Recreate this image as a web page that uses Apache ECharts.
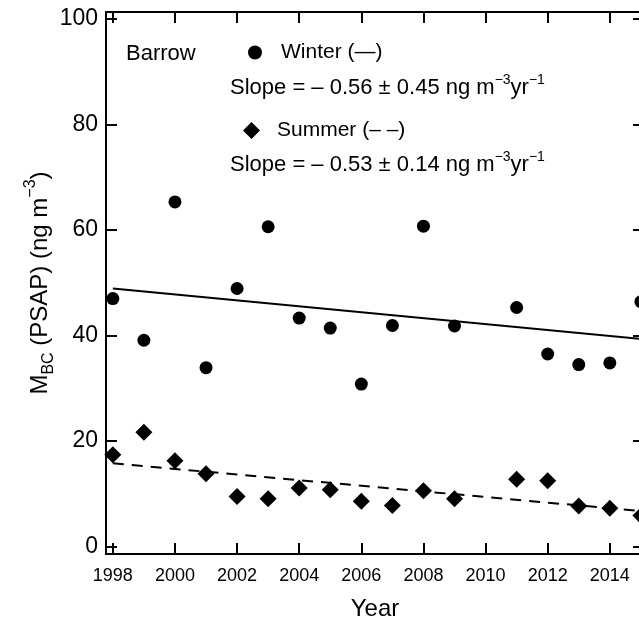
<!DOCTYPE html>
<html>
<head>
  <meta charset="utf-8">
  <title>Barrow BC</title>
  <script src="https://cdn.jsdelivr.net/npm/echarts@6.0.0/dist/echarts.min.js"></script>
  <style>
    html, body { margin: 0; padding: 0; background: #fff; }
    #chart { width: 639px; height: 619px; }
  </style>
</head>
<body>
  <div id="chart"></div>
  <script>
    // datos
    const years = [1998, 1999, 2000, 2001, 2002, 2003, 2004, 2005, 2006, 2007, 2008, 2009, 2010, 2011, 2012, 2013, 2014, 2015];
    const winter = [47.0, 39.1, 65.3, 33.9, 48.9, 60.6, 43.3, 41.4, 30.8, 41.9, 60.7, 41.8, null, 45.3, 36.5, 34.5, 34.8, 46.4];
    const summer = [17.4, 21.7, 16.3, 13.8, 9.5, 9.1, 11.1, 10.8, 8.6, 7.8, 10.6, 9.1, null, 12.8, 12.5, 7.7, 7.3, 5.9];
    // extremos de las rectas de tendencia
    const winterFit = [[1998, 48.9], [2015.1, 39.3]];
    const summerFit = [[1998, 15.8], [2015.1, 6.7]];
    const xTicks = [1998, 2000, 2002, 2004, 2006, 2008, 2010, 2012, 2014];
    const yTicks = [0, 20, 40, 60, 80, 100];

    const FONT = 'Liberation Sans, Arial, Helvetica, sans-serif';
    const myChart = echarts.init(document.getElementById('chart'), null, { renderer: 'canvas' });

    function pairs(vals) {
      const out = [];
      for (let i = 0; i < years.length; i++) {
        if (vals[i] != null) out.push([years[i], vals[i]]);
      }
      return out;
    }

    const lineStyleAxis = { color: '#000', width: 2 };

    function xAxisDef(pos, showLabel) {
      return {
        type: 'value',
        position: pos,
        min: 1997.78,
        max: 2015.1,
        splitLine: { show: false },
        axisLine: { show: true, onZero: false, lineStyle: lineStyleAxis },
        axisTick: { show: true, inside: true, length: 11, lineStyle: lineStyleAxis, customValues: xTicks },
        axisLabel: {
          show: showLabel, customValues: xTicks, margin: 13,
          color: '#000', fontFamily: FONT, fontSize: 18,
          formatter: function (v) { return String(v); }
        }
      };
    }

    function yAxisDef(pos, showLabel) {
      return {
        type: 'value',
        position: pos,
        min: -1.38,
        max: 101.27,
        splitLine: { show: false },
        axisLine: { show: true, onZero: false, lineStyle: lineStyleAxis },
        axisTick: { show: true, inside: true, length: 11, lineStyle: lineStyleAxis, customValues: yTicks },
        axisLabel: {
          show: showLabel, customValues: yTicks, margin: 8,
          color: '#000', fontFamily: FONT, fontSize: 23,
          formatter: function (v) { return String(v); }
        }
      };
    }

    const xBottom = xAxisDef('bottom', true);
    xBottom.name = 'Year';
    xBottom.nameLocation = 'middle';
    xBottom.nameGap = 43;
    xBottom.nameMoveOverlap = false;
    xBottom.nameTextStyle = { color: '#000', fontFamily: FONT, fontSize: 24 };

    const yLeft = yAxisDef('left', true);
    yLeft.name = '{a|M}{b|BC}{a| (PSAP) (ng m}{c|\u22123}{a|)}';
    yLeft.nameLocation = 'middle';
    yLeft.nameGap = 49;
    yLeft.nameMoveOverlap = false;
    yLeft.nameTextStyle = {
      color: '#000', fontFamily: FONT,
      rich: {
        a: { fontFamily: FONT, fontSize: 24, lineHeight: 34, color: '#000' },
        b: { fontFamily: FONT, fontSize: 16, lineHeight: 16, verticalAlign: 'bottom', color: '#000' },
        c: { fontFamily: FONT, fontSize: 16, lineHeight: 16, verticalAlign: 'top', color: '#000' }
      }
    };

    const slopeRich = {
      a: { fontFamily: FONT, fontSize: 22, lineHeight: 30, fill: '#000' },
      s: { fontFamily: FONT, fontSize: 14, lineHeight: 14, verticalAlign: 'top', fill: '#000' }
    };

    var option = {
      backgroundColor: '#fff',
      animation: false,
      grid: { left: 106, right: -5, top: 12, bottom: 65, containLabel: false, outerBoundsMode: 'none' },
      xAxis: [xBottom, xAxisDef('top', false)],
      yAxis: [yLeft, yAxisDef('right', false)],
      legend: [
        {
          data: ['Winter (\u2014)'], left: 248, top: 42, padding: 0,
          icon: 'circle', itemWidth: 14, itemHeight: 14,
          itemStyle: { opacity: 1 },
          textStyle: { color: '#000', fontFamily: FONT, fontSize: 21, padding: [0, 0, 0, 14] }
        },
        {
          data: ['Summer (\u2013 \u2013)'], left: 243, top: 120, padding: 0,
          icon: 'diamond', itemWidth: 17, itemHeight: 17,
          itemStyle: { opacity: 1 },
          textStyle: { color: '#000', fontFamily: FONT, fontSize: 21, padding: [0, 0, 0, 12] }
        }
      ],
      graphic: [
        {
          type: 'text', left: 126, top: 43,
          style: { text: 'Barrow', fontFamily: FONT, fontSize: 22, fill: '#000' }
        },
        {
          type: 'text', left: 230, top: 73,
          style: {
            text: '{a|Slope = \u2013 0.56 \u00b1 0.45 ng m}{s|\u22123}{a|yr}{s|\u22121}',
            rich: slopeRich
          }
        },
        {
          type: 'text', left: 230, top: 150,
          style: {
            text: '{a|Slope = \u2013 0.53 \u00b1 0.14 ng m}{s|\u22123}{a|yr}{s|\u22121}',
            rich: slopeRich
          }
        }
      ],
      series: [
        {
          name: 'Winter fit', type: 'line', data: winterFit, showSymbol: false,
          lineStyle: { color: '#000', width: 2 }, silent: true
        },
        {
          name: 'Summer fit', type: 'line', data: summerFit, showSymbol: false,
          lineStyle: { color: '#000', width: 2, type: [11, 8] }, silent: true
        },
        {
          name: 'Winter (\u2014)', type: 'scatter', data: pairs(winter),
          symbol: 'circle', symbolSize: 13, itemStyle: { color: '#000', opacity: 1 }
        },
        {
          name: 'Summer (\u2013 \u2013)', type: 'scatter', data: pairs(summer),
          symbol: 'diamond', symbolSize: 17, itemStyle: { color: '#000', opacity: 1 }
        }
      ]
    };

    myChart.setOption(option);
  </script>
</body>
</html>
